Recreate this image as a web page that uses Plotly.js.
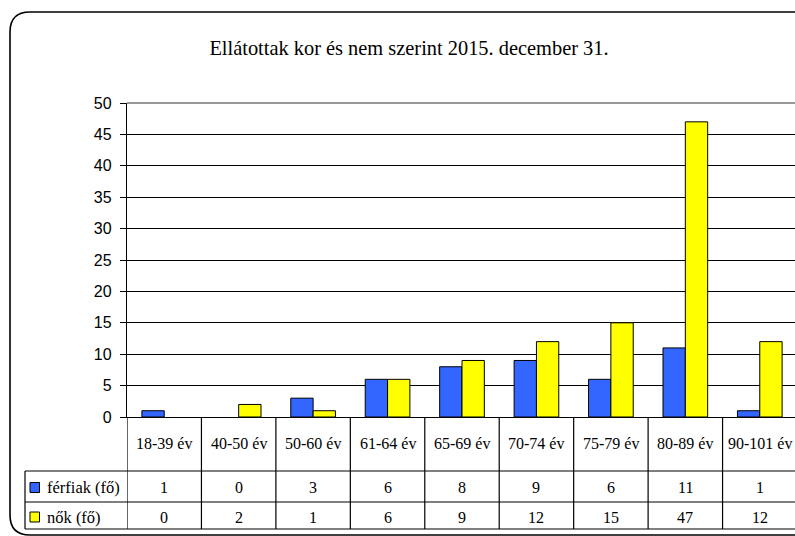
<!DOCTYPE html>
<html>
<head>
<meta charset="utf-8">
<script src="https://cdn.plot.ly/plotly-3.0.1.min.js"></script>
<style>
  html, body { margin: 0; padding: 0; overflow: hidden; background: #fff; }
  #chart { width: 800px; height: 536px; }
</style>
</head>
<body>
<div id="chart"></div>
<script>
// ---- data ----
const categories = ['18-39 év', '40-50 év', '50-60 év', '61-64 év', '65-69 év', '70-74 év', '75-79 év', '80-89 év', '90-101 év'];
const men = [1, 0, 3, 6, 8, 9, 6, 11, 1];
const women = [0, 2, 1, 6, 9, 12, 15, 47, 12];
const seriesNames = ['férfiak (fő)', 'nők (fő)'];
const seriesColors = ['#3366FF', '#FFFF00'];
const chartTitle = 'Ellátottak kor és nem szerint 2015. december 31.';

// ---- geometry helpers (pixel -> paper) ----
const FIG_W = 800, FIG_H = 536;
const L = 127, R = 797, T = 103, B = 417;
const W = R - L, H = B - T;
const px = p => (p - L) / W;
const py = p => (B - p) / H;

const serif = 'Liberation Serif, Times New Roman, serif';
const sans = 'Liberation Sans, Arial, sans-serif';

// zero values are not drawn as bars (as in the original)
const barVals = arr => arr.map(v => (v === 0 ? null : v));

const traces = [
  { type: 'bar', x: categories, y: barVals(men), name: seriesNames[0],
    marker: { color: seriesColors[0], line: { color: '#000', width: 1 } }, hoverinfo: 'skip' },
  { type: 'bar', x: categories, y: barVals(women), name: seriesNames[1],
    marker: { color: seriesColors[1], line: { color: '#000', width: 1 } }, hoverinfo: 'skip' }
];

const shapes = [];
const annotations = [];
const lineStyle = { color: '#000', width: 1.2 };

// top plot border (grey)
shapes.push({ type: 'line', xref: 'paper', yref: 'paper', x0: 0, x1: 1.01, y0: 1, y1: 1,
  line: { color: '#999', width: 2 }, layer: 'above' });

// table: vertical lines at category boundaries
for (let k = 0; k <= categories.length; k++) {
  shapes.push({ type: 'line', xref: 'x', yref: 'paper', x0: k - 0.5, x1: k - 0.5,
    y0: py(417), y1: py(529), line: lineStyle });
}
// left column vertical
shapes.push({ type: 'line', xref: 'paper', yref: 'paper', x0: px(25), x1: px(25),
  y0: py(471), y1: py(529), line: lineStyle });
// horizontal lines
[471, 502, 529].forEach(yy => {
  shapes.push({ type: 'line', xref: 'paper', yref: 'paper', x0: px(25), x1: 1.01,
    y0: py(yy), y1: py(yy), line: lineStyle });
});

// legend keys in table
const rowCenters = [487.5, 517];
seriesNames.forEach((nm, i) => {
  const c = rowCenters[i];
  shapes.push({ type: 'rect', xref: 'paper', yref: 'paper', x0: px(30), x1: px(39.5),
    y0: py(c - 5), y1: py(c + 5), fillcolor: seriesColors[i], line: { color: '#000', width: 1 } });
  annotations.push({ xref: 'paper', yref: 'paper', x: px(44.5), y: py(c), text: nm,
    showarrow: false, xanchor: 'left', yanchor: 'middle', font: { family: serif, size: 16.5, color: '#000' } });
});

// category labels row
categories.forEach((cat, i) => {
  annotations.push({ xref: 'x', yref: 'paper', x: cat, y: py(443), text: cat, showarrow: false,
    xanchor: 'center', yanchor: 'middle', font: { family: serif, size: 16, color: '#000' } });
});
// values rows
[men, women].forEach((arr, r) => {
  arr.forEach((v, i) => {
    annotations.push({ xref: 'x', yref: 'paper', x: categories[i], y: py(rowCenters[r]), text: String(v),
      showarrow: false, xanchor: 'center', yanchor: 'middle', font: { family: serif, size: 16, color: '#000' } });
  });
});

// outer rounded frame
const fx0 = 10, fy0 = 12, fy1 = 535, rad = 20, fx1 = 820;
const framePath = [
  `M ${px(fx1)},${py(fy0)}`,
  `L ${px(fx0 + rad)},${py(fy0)}`,
  `Q ${px(fx0)},${py(fy0)} ${px(fx0)},${py(fy0 + rad)}`,
  `L ${px(fx0)},${py(fy1 - rad)}`,
  `Q ${px(fx0)},${py(fy1)} ${px(fx0 + rad)},${py(fy1)}`,
  `L ${px(fx1)},${py(fy1)}`
].join(' ');
shapes.push({ type: 'path', xref: 'paper', yref: 'paper', path: framePath,
  line: { color: '#000', width: 1.6 } });

const layout = {
  width: FIG_W, height: FIG_H,
  margin: { l: L, r: FIG_W - R, t: T, b: FIG_H - B, pad: 0 },
  paper_bgcolor: '#fff', plot_bgcolor: '#fff',
  showlegend: false,
  barmode: 'group', bargap: 0.4, bargroupgap: 0,
  title: { text: chartTitle, xref: 'container', x: 409 / FIG_W, xanchor: 'center',
    yref: 'container', y: 1 - 48 / FIG_H, yanchor: 'middle',
    font: { family: serif, size: 20.4, color: '#000' } },
  xaxis: { type: 'category', range: [-0.5, categories.length - 0.5], showticklabels: false,
    ticks: '', showgrid: false, showline: true, linecolor: '#000', linewidth: 1.2, zeroline: false,
    fixedrange: true },
  yaxis: { range: [0, 50], dtick: 5, tick0: 0, showgrid: true, gridcolor: '#000', gridwidth: 1,
    showline: true, linecolor: '#000', linewidth: 1.2, ticks: 'outside', ticklen: 6, tickcolor: '#000',
    tickwidth: 1, zeroline: false, ticklabelstandoff: 5,
    tickfont: { family: sans, size: 16, color: '#000' }, fixedrange: true },
  shapes: shapes,
  annotations: annotations
};

Plotly.newPlot('chart', traces, layout, { staticPlot: true, displayModeBar: false });
</script>
</body>
</html>
